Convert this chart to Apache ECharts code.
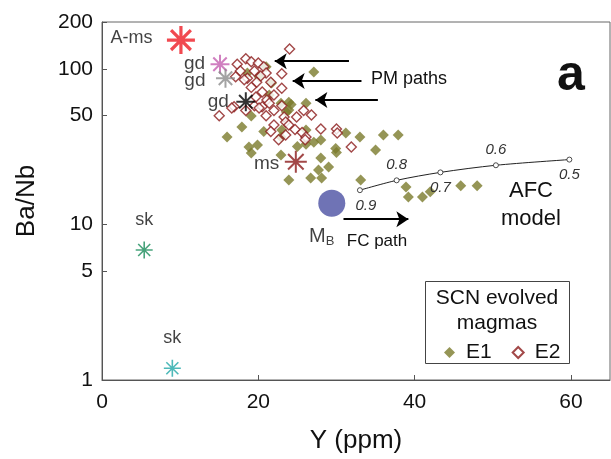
<!DOCTYPE html>
<html>
<head>
<meta charset="utf-8">
<script src="https://cdn.jsdelivr.net/npm/echarts@6/dist/echarts.min.js"></script>
<style>
  html, body { margin: 0; padding: 0; background: #fff; }
  #main { width: 611px; height: 459px; }
</style>
</head>
<body>
<div id="main"></div>
<script>
// E1 samples: Y (ppm), Ba/Nb
var e1Y    = [27.1, 21.0, 18.6, 20.1, 21.7, 21.4, 23.9, 22.9, 26.1, 24.2, 23.9, 23.6, 19.1, 17.9, 16.0,
              20.7, 18.8, 19.9, 19.1, 22.9, 25.0, 26.1, 27.1, 28.0, 23.0, 26.1, 22.9, 28.0, 29.0, 27.7,
              26.7, 28.1, 23.9, 29.9, 30.0, 31.2, 33.0, 36.0, 37.9, 35.0, 33.1, 38.9, 39.2, 41.0, 42.0,
              45.9, 48.0];
var e1BaNb = [95.5, 103, 94, 89, 81, 68, 61, 60, 60, 59, 54.4, 52.8, 49.7, 42.3, 36.5,
              39.5, 31.4, 32.4, 28.8, 27.9, 31.7, 32.7, 33.8, 34.9, 40.4, 40.4, 36.5, 26.7, 23.4, 22.4,
              19.9, 19.9, 19.3, 30.8, 29.0, 38.7, 36.5, 37.5, 37.5, 30.1, 19.3, 17.4, 15.0, 15.0, 16.2,
              17.7, 17.7];
// E2 samples
var e2Y    = [24.0, 18.4, 19.1, 20.0, 17.3, 20.7, 17.7, 19.5, 21.0, 23.0, 17.1, 18.6, 20.3, 19.8, 21.6,
              18.2, 23.0, 19.1, 20.5, 22.0, 19.7, 21.1, 16.9, 19.5, 20.5, 21.4, 23.0, 22.0, 21.0, 23.3,
              15.0, 16.6, 18.4, 20.1, 25.8, 26.8, 24.9, 23.5, 22.0, 23.9, 24.7, 25.6, 28.0, 30.0, 30.1,
              26.1, 23.5, 22.6, 21.6, 26.0, 31.9];
var e2BaNb = [134, 116, 111, 109, 107, 103, 97, 97, 94, 93, 89, 87, 90, 82, 82,
              85, 75, 76, 71, 68, 66, 63, 57, 58, 57, 60, 58, 54, 50, 49,
              50, 56, 54, 56, 54, 50.5, 49, 45.5, 43.5, 43.5, 40.8, 39, 41, 41, 38.7,
              36.5, 37.5, 35, 39.5, 35, 31.4];
// end-members
var emNames = ['A-ms', 'gd', 'gd', 'gd', 'ms', 'sk', 'sk'];
var emY     = [10.1, 15.1, 15.8, 18.4, 24.8, 5.4, 9.0];
var emBaNb  = [153, 107, 87, 61.5, 25.3, 6.85, 1.19];
// parental magma MB
var mbY = [29.4];
var mbBaNb = [13.7];
// AFC model curve
var afcF    = ['0.9', '0.8', '0.7', '0.6', '0.5'];
var afcY    = [33.0, 37.7, 43.3, 50.4, 59.8];
var afcBaNb = [16.6, 19.2, 21.6, 24.0, 26.1];
// arrows: [from, to] in data units
var pmArrows = [
  [[31.6, 112], [22.1, 112]],
  [[33.2, 83.5], [24.4, 83.5]],
  [[35.3, 63], [27.3, 63]]
];
var fcArrow = [[30.9, 10.8], [39.2, 10.8]];
var yTicks = [1, 5, 10, 50, 100, 200];

var emStyle = [
  {c: '#ee1c24', s: 28, w: 3.2, pos: 'left', d: 12, f: 18, off: [0, -2]},
  {c: '#c45fb0', s: 19, w: 2, pos: 'left', d: 3, f: 19, off: [0, 0]},
  {c: '#8c8c8c', s: 19, w: 2, pos: 'left', d: 8, f: 19, off: [0, 3]},
  {c: '#000000', s: 19, w: 2, pos: 'left', d: 5, f: 19, off: [0, 0]},
  {c: '#8b1a1a', s: 22, w: 2, pos: 'left', d: 3, f: 19, off: [0, 2]},
  {c: '#1a8c5a', s: 17, w: 1.6, pos: 'top', d: 10, f: 18, off: [0, 0]},
  {c: '#22a8a8', s: 17, w: 1.6, pos: 'top', d: 10, f: 18, off: [0, 0]}
];
var starPath = 'path://M0,-10L0,10M-10,0L10,0M-7.07,-7.07L7.07,7.07M-7.07,7.07L7.07,-7.07';

function zip(a, b) {
  var out = [];
  for (var i = 0; i < a.length; i++) out.push([a[i], b[i]]);
  return out;
}

var emData = [];
for (var i = 0; i < emNames.length; i++) {
  var st = emStyle[i];
  emData.push({
    value: [emY[i], emBaNb[i]],
    name: emNames[i],
    symbolSize: st.s,
    itemStyle: {color: 'none', borderColor: st.c, borderWidth: st.w},
    label: {show: true, position: st.pos, distance: st.d, fontSize: st.f, offset: st.off, formatter: emNames[i]}
  });
}

var afcData = [];
for (var k = 0; k < afcF.length; k++) {
  afcData.push({
    value: [afcY[k], afcBaNb[k]],
    label: {show: true, position: (k % 2 === 0) ? 'bottom' : 'top', distance: 5,
            offset: k === 0 ? [6, 0] : [0, 0], formatter: afcF[k]}
  });
}

var arrowData = pmArrows.concat([fcArrow]).map(function (a) {
  return {coords: a};
});

var myChart = echarts.init(document.getElementById('main'));
var option = {
  animation: false,
  backgroundColor: '#fff',
  textStyle: {fontFamily: 'Liberation Sans, Arial, sans-serif'},
  grid: {left: 102, right: 1, top: 22, bottom: 79, show: true, borderColor: '#666', borderWidth: 1},
  xAxis: {
    type: 'value', min: 0, max: 65, interval: 20,
    name: 'Y (ppm)', nameLocation: 'middle', nameGap: 48,
    nameTextStyle: {fontSize: 26, color: '#111'},
    axisLine: {lineStyle: {color: '#555'}},
    axisTick: {inside: true, length: 5, lineStyle: {color: '#555'}},
    axisLabel: {fontSize: 21, color: '#111', margin: 12, showMaxLabel: false},
    splitLine: {show: false}
  },
  yAxis: {
    type: 'log', logBase: 10, min: 1, max: 200,
    name: 'Ba/Nb', nameLocation: 'middle', nameGap: 62,
    nameTextStyle: {fontSize: 26, color: '#111'},
    axisLine: {lineStyle: {color: '#555'}},
    axisTick: {inside: true, length: 5, customValues: yTicks, lineStyle: {color: '#555'}},
    axisLabel: {fontSize: 21, color: '#111', margin: 9, customValues: yTicks},
    minorTick: {show: false},
    splitLine: {show: false}
  },
  legend: {
    left: 439, top: 337, itemWidth: 11, itemHeight: 11, itemGap: 20,
    textStyle: {fontSize: 21, color: '#111', padding: [0, 0, 0, 6]},
    data: ['E1', 'E2'], z: 6
  },
  graphic: [
    {type: 'rect', left: 425, top: 281, z: 5,
     shape: {width: 144, height: 82}, style: {fill: '#fff', stroke: '#444', lineWidth: 1}},
    {type: 'text', x: 497, y: 298, z: 6,
     style: {text: 'SCN evolved', fontSize: 21, fill: '#111', align: 'center', verticalAlign: 'middle', fontFamily: 'Liberation Sans'}},
    {type: 'text', x: 497, y: 323, z: 6,
     style: {text: 'magmas', fontSize: 21, fill: '#111', align: 'center', verticalAlign: 'middle', fontFamily: 'Liberation Sans'}},
    {type: 'text', x: 409, y: 79, z: 6,
     style: {text: 'PM paths', fontSize: 18, fill: '#111', align: 'center', verticalAlign: 'middle', fontFamily: 'Liberation Sans'}},
    {type: 'text', x: 377, y: 241, z: 6,
     style: {text: 'FC path', fontSize: 17, fill: '#111', align: 'center', verticalAlign: 'middle', fontFamily: 'Liberation Sans'}},
    {type: 'text', x: 531, y: 191, z: 6,
     style: {text: 'AFC', fontSize: 22, fill: '#111', align: 'center', verticalAlign: 'middle', fontFamily: 'Liberation Sans'}},
    {type: 'text', x: 531, y: 219, z: 6,
     style: {text: 'model', fontSize: 22, fill: '#111', align: 'center', verticalAlign: 'middle', fontFamily: 'Liberation Sans'}},
    {type: 'text', x: 571, y: 76, z: 6,
     style: {text: 'a', fontSize: 50, fontWeight: 'bold', fill: '#111', align: 'center', verticalAlign: 'middle', fontFamily: 'Liberation Sans'}}
  ],
  series: [
    {
      name: 'E1', type: 'scatter', symbol: 'diamond', symbolSize: 11,
      itemStyle: {color: '#7b7b2c'}, z: 2,
      data: zip(e1Y, e1BaNb)
    },
    {
      name: 'E2', type: 'scatter', symbol: 'diamond', symbolSize: 10,
      itemStyle: {color: '#fff', borderColor: '#8b1a1a', borderWidth: 1.4}, z: 3,
      data: zip(e2Y, e2BaNb)
    },
    {
      name: 'AFC', type: 'line', smooth: 0.3, symbol: 'circle', symbolSize: 5, showSymbol: true,
      lineStyle: {color: '#222', width: 1},
      itemStyle: {color: '#fff', borderColor: '#222', borderWidth: 0.8},
      label: {fontSize: 15, fontStyle: 'italic', color: '#333'},
      data: afcData, z: 4
    },
    {
      name: 'MB', type: 'scatter', symbol: 'circle', symbolSize: 27,
      itemStyle: {color: '#4b50a2'}, z: 4,
      label: {
        show: true, position: 'bottom', distance: 6, offset: [-10, 2],
        formatter: '{m|M}{b|B}',
        rich: {m: {fontSize: 20, color: '#111'}, b: {fontSize: 13, color: '#111', verticalAlign: 'bottom', padding: [10, 0, 0, 0]}}
      },
      data: zip(mbY, mbBaNb)
    },
    {
      name: 'end-members', type: 'scatter', symbol: starPath, z: 5,
      label: {color: '#111'},
      data: emData
    },
    {
      name: 'arrows', type: 'lines', coordinateSystem: 'cartesian2d', z: 4,
      symbol: ['none', 'arrow'], symbolSize: 12, silent: true,
      lineStyle: {color: '#000', width: 2, opacity: 1},
      data: arrowData
    }
  ]
};
myChart.setOption(option);
</script>
</body>
</html>
